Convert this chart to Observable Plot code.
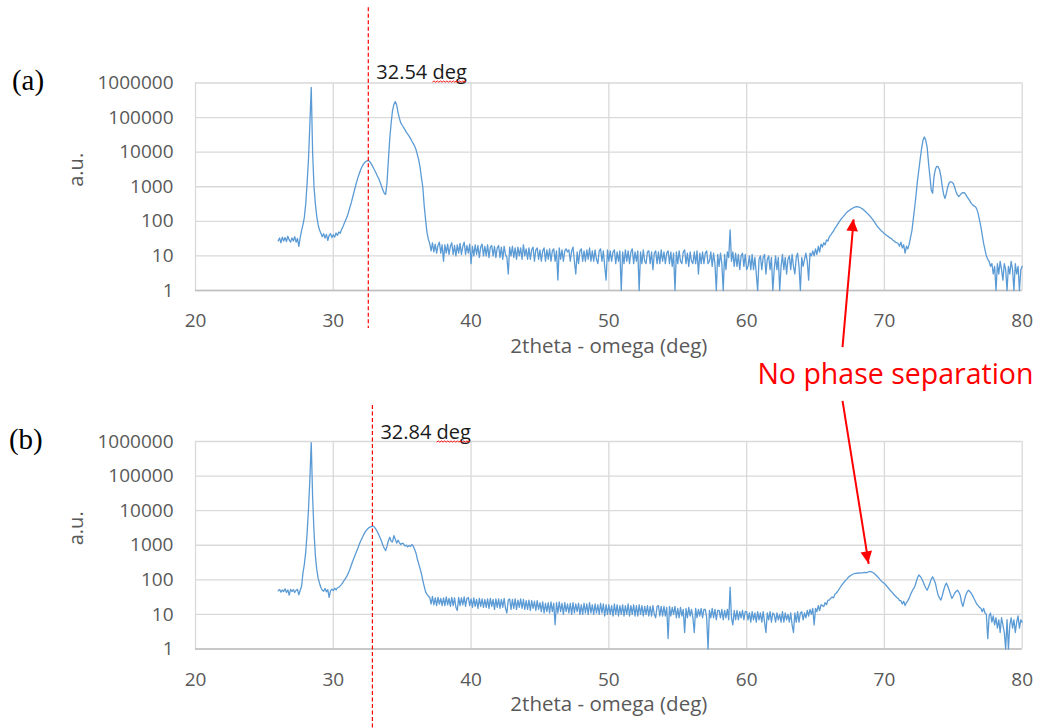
<!DOCTYPE html>
<html>
<head>
<meta charset="utf-8">
<script src="https://cdn.jsdelivr.net/npm/d3@7"></script>
<script src="https://cdn.jsdelivr.net/npm/@observablehq/plot@0.6"></script>
<style>
  html, body { margin: 0; padding: 0; background: #fff; }
  #wrap { position: relative; width: 1043px; height: 728px; overflow: hidden; background: #fff; }
  .panel { position: absolute; left: 0; }
</style>
</head>
<body>
<div id="wrap"></div>
<script>
// ---------- data ----------
const xStart = 26.0;   // first 2theta sample (deg)
const xStep = 0.1;     // sample spacing (deg)
const xTicks = [20, 30, 40, 50, 60, 70, 80];
const yTicks = [1, 10, 100, 1000, 10000, 100000, 1000000];
const yTickLabels = ["1", "10", "100", "1000", "10000", "100000", "1000000"];

// panel (a): intensity per 0.1 deg, rows = 26.x ... 79.x, then 80.0
const intensityA = [
  27,33,24,35,27,34,26,37,29,25,
  33,27,36,25,32,19,34,55,80,130,
  320,1260,6300,63000,750000,10000,1000,320,140,80,
  56,45,36,44,33,42,28,39,44,34,
  41,35,46,39,49,45,58,70,88,110,
  135,180,250,340,480,700,1000,1400,1900,2500,
  3200,3900,4600,5100,5500,5700,5600,5000,4300,3600,
  3000,2500,2050,1700,1350,1050,800,650,600,1300,
  6000,25000,70000,160000,240000,290000,230000,140000,95000,70000,
  60000,52000,45000,38000,33000,29000,25000,21000,18000,15000,
  12000,8500,6000,3600,1800,950,280,110,48,30,
  23,14,24,13,22,12,20,25,12,21,
  7,21,12,22,11,19,24,11,20,10,
  21,12,23,11,19,25,11,20,12,22,
  6,19,10,21,11,20,9,18,22,10,
  19,10,21,9,18,20,10,19,9,17,
  20,9,18,8,19,11,9,3,18,10,
  19,9,17,8,18,10,17,8,21,10,
  16,8,17,8,15,18,7,15,17,8,
  15,7,14,17,7,15,8,16,7,14,
  16,7,14,2,17,8,15,7,14,16,
  13,15,7,14,18,7,3,13,6,14,
  16,7,14,7,15,8,17,7,14,7,
  15,8,6,14,16,7,14,5,2,15,
  7,14,7,13,15,6,13,7,14,1,
  13,6,15,7,14,6,13,16,6,13,
  7,14,1,13,6,15,7,6,13,14,
  6,13,4,12,14,6,13,6,15,7,
  13,6,12,14,6,13,5,12,1,13,
  6,14,7,6,13,15,6,12,5,13,
  7,6,13,6,14,3,12,6,13,6,
  12,14,6,7,13,5,12,6,1,11,
  5,12,6,1,11,4,13,9,57,7,
  13,5,12,5,11,4,10,12,5,11,
  4,5,10,4,11,4,9,3,1,8,
  10,4,9,11,3,8,10,4,9,1,
  4,10,4,9,1,5,11,4,9,3,
  8,10,4,11,5,3,9,12,5,1,
  9,5,8,12,7,2,12,10,14,10,
  16,11,19,13,22,18,24,21,29,27,
  36,40,46,52,62,70,82,95,108,122,
  135,152,170,186,200,214,228,240,252,260,
  265,262,255,243,230,213,196,180,164,150,
  135,120,106,92,80,70,64,57,52,48,
  44,41,38,36,33,32,29,27,25,24,
  23,19,25,17,21,12,19,16,22,35,
  55,120,260,600,1500,3100,6500,13000,22000,27500,
  22000,14000,5000,2000,800,650,2000,3200,3900,3800,
  3100,2000,1000,600,460,650,1000,1300,1400,1350,
  1250,950,720,580,520,580,650,680,670,600,
  510,450,390,330,300,280,265,230,170,110,
  70,40,23,15,10,8,7,5,6,3,
  5,1,6,3,7,4,2,6,4,1,
  5,3,7,4,1,6,3,5,1,4,
  5
];

// panel (b): intensity per 0.1 deg, rows = 26.x ... 79.x, then 80.0
const intensityB = [
  48,53,44,51,46,55,43,51,36,53,
  46,52,43,50,53,37,50,65,160,280,
  630,2200,11000,80000,930000,25000,2500,500,200,112,
  80,60,50,47,56,45,52,31,48,54,
  49,57,51,59,61,67,74,85,98,112,
  130,160,200,260,340,430,540,680,850,1100,
  1350,1650,2000,2350,2700,3000,3250,3400,3520,3550,
  3300,2900,2450,2000,1650,1300,1000,820,700,950,
  1350,1700,1300,1250,1900,1500,1150,1400,1200,1050,
  1150,1100,950,1000,900,980,920,1050,950,760,
  600,400,290,210,150,95,65,45,38,34,
  31,20,33,19,30,18,31,20,29,18,
  30,18,32,19,29,17,31,18,30,16,
  13,31,18,30,19,32,17,29,31,18,
  28,16,30,17,27,15,29,17,28,16,
  27,16,28,15,29,17,27,14,28,16,
  28,15,27,16,29,15,11,26,28,14,
  27,15,28,14,26,16,28,15,27,14,
  25,14,26,13,25,15,24,13,25,14,
  22,12,23,11,21,12,22,11,23,12,
  21,5,22,11,23,12,21,10,22,12,
  20,11,21,10,22,11,20,12,21,10,
  19,10,21,11,20,10,22,11,19,10,
  20,11,19,10,21,11,20,9,19,10,
  19,10,18,9,20,10,19,9,18,10,
  19,9,18,10,20,9,18,10,19,9,
  18,9,19,10,18,9,17,10,18,9,
  17,9,18,10,8,17,18,9,17,9,
  17,9,16,2,17,9,16,10,17,8,
  15,8,16,9,14,3,15,8,16,9,
  14,8,3,15,8,14,9,15,8,14,
  14,8,1,13,8,15,8,14,7,13,
  13,8,14,7,13,8,14,7,61,8,
  5,13,7,13,7,12,8,13,7,12,
  12,7,11,6,12,7,11,6,12,7,
  11,6,12,6,3,11,7,12,6,11,
  10,6,11,7,10,6,12,6,11,7,
  10,6,11,5,3,11,6,12,6,11,
  12,7,11,8,13,9,14,10,15,5,
  15,12,18,13,19,18,17,22,19,26,
  26,29,32,30,38,41,46,53,61,70,
  79,88,98,108,120,129,138,145,150,154,
  155,158,156,160,158,162,165,160,168,172,
  174,168,160,148,135,123,112,100,90,84,
  79,71,64,57,51,46,42,37,34,31,
  29,25,25,20,24,18,22,25,30,38,
  46,55,63,85,115,138,125,110,90,71,
  58,50,62,80,105,123,100,80,52,36,
  30,26,35,50,68,80,65,50,38,29,
  34,41,46,50,44,36,22,17,25,36,
  44,50,46,41,35,29,24,20,18,16,
  15,12,15,11,10,2,9,11,6,9,
  5,8,4,7,3,8,5,3,1,7,
  1,5,8,4,7,3,6,9,4,7,
  6
];

const peakMarkers = [32.54, 32.84];
const peakMarkerLabels = ["32.54 deg", "32.84 deg"];
const panelLabels = ["(a)", "(b)"];
const xTitle = "2theta - omega (deg)";
const yTitle = "a.u.";
const noteText = "No phase separation";
const noteAt = [{x: 70.8, y: 8.7e7}];                       // panel (b) coords
const arrowA = [{x1: 66.96, y1: 0.023, x2: 67.77, y2: 113}]; // panel (a) coords
const arrowB = [{x1: 66.96, y1: 1.5e7, x2: 68.86, y2: 290}]; // panel (b) coords

// ---------- drawing ----------
const BLUE = "#5b9bd5", GRID = "#d9d9d9", TXT = "#595959", RED = "#ff0000";
const wrap = document.getElementById("wrap");

function makePanel(cfg) {
  const series = cfg.values.map((v, i) => ({x: +(xStart + i * xStep).toFixed(1), y: v}));
  const gridStyle = {stroke: GRID, strokeOpacity: 1, strokeWidth: 1.3};
  const marks = [
    Plot.gridX(xTicks, gridStyle),
    Plot.gridY(yTicks, gridStyle),
    Plot.ruleY([1], {stroke: "#bfbfbf", strokeWidth: 1.3}),
    Plot.axisX(xTicks, {tickSize: 0, tickPadding: 23, label: null, color: TXT, fontSize: 19, tickFormat: d => String(d)}),
    Plot.axisY(yTicks, {tickSize: 0, tickPadding: 22, label: null, color: TXT, fontSize: 19, tickFormat: d => yTickLabels[yTicks.indexOf(d)]}),
    Plot.text([xTitle], {frameAnchor: "bottom", dy: 62, fontSize: 20.5, fill: TXT, text: d => d}),
    Plot.text([yTitle], {frameAnchor: "left", dx: -119, rotate: -90, fontSize: 20, fill: TXT, text: d => d}),
    Plot.line(series, {x: "x", y: "y", stroke: BLUE, strokeWidth: 1.3}),
    Plot.ruleX([cfg.marker], {y1: cfg.ruleTop, y2: cfg.ruleBottom, stroke: RED, strokeWidth: 1.2, strokeDasharray: "4,2.5"}),
    Plot.text([cfg.markerLabel], {x: cfg.marker, frameAnchor: "top", dx: 8, dy: cfg.markerDy, textAnchor: "start", fontSize: 20, fill: "#1a1a1a", text: d => d}),
    Plot.text([cfg.panelLabel], {frameAnchor: "top-left", dx: cfg.labelDx, dy: cfg.labelDy, textAnchor: "middle", fontSize: 29, fontFamily: "'Liberation Serif', 'Times New Roman', serif", fill: "#000", text: d => d}),
    Plot.link(cfg.arrow, {x1: "x1", y1: "y1", x2: "x2", y2: "y2", stroke: RED, strokeWidth: 2})
  ];
  if (cfg.note) {
    marks.push(Plot.text(cfg.note, {x: "x", y: "y", text: () => noteText, fontSize: 28.5, fill: RED, textAnchor: "middle"}));
  }
  const svg = Plot.plot({
    width: 1043,
    height: cfg.height,
    marginTop: cfg.marginTop,
    marginBottom: cfg.marginBottom,
    marginLeft: 195,
    marginRight: 21.3,
    x: {domain: [20, 80]},
    y: {type: "log", domain: [1, 1e6]},
    style: {fontFamily: "'Open Sans', sans-serif", fontSize: "19px", background: "transparent", overflow: "visible"},
    marks
  });
  const holder = document.createElement("div");
  holder.className = "panel";
  holder.style.top = cfg.top + "px";
  holder.appendChild(svg);
  wrap.appendChild(holder);

  // filled arrowhead, positioned through the plot's own scales
  const sx = svg.scale("x"), sy = svg.scale("y");
  cfg.arrow.forEach(a => {
    const ax1 = sx.apply(a.x1), ay1 = sy.apply(a.y1), ax2 = sx.apply(a.x2), ay2 = sy.apply(a.y2);
    const len = Math.hypot(ax2 - ax1, ay2 - ay1);
    const ux = (ax2 - ax1) / len, uy = (ay2 - ay1) / len;
    const L = 12, H = 5.8;
    const bx = ax2 - ux * L, by = ay2 - uy * L;
    d3.select(svg).append("polygon")
      .attr("points", [[ax2, ay2], [bx - uy * H, by + ux * H], [bx + uy * H, by - ux * H]].map(p => p.join(",")).join(" "))
      .attr("fill", RED);
  });

  // spell-check style wavy underline under "deg"
  svg.querySelectorAll("text").forEach(t => {
    if (t.textContent !== cfg.markerLabel) return;
    const s = cfg.markerLabel.indexOf("deg");
    const p0 = t.getStartPositionOfChar(s);
    const p1 = t.getEndPositionOfChar(cfg.markerLabel.length - 1);
    const y0 = p0.y + 3;
    let d = `M${p0.x},${y0}`;
    let k = 0;
    for (let x = p0.x + 1.6; x <= p1.x + 0.5; x += 1.6) { k++; d += `L${x},${y0 + (k % 2 ? -1.3 : 0)}`; }
    const path = document.createElementNS("http://www.w3.org/2000/svg", "path");
    path.setAttribute("d", d);
    path.setAttribute("fill", "none");
    path.setAttribute("stroke", RED);
    path.setAttribute("stroke-width", "0.9");
    if (t.getAttribute("transform")) path.setAttribute("transform", t.getAttribute("transform"));
    t.parentNode.appendChild(path);
  });
}

makePanel({
  values: intensityA, marker: peakMarkers[0], markerLabel: peakMarkerLabels[0], panelLabel: panelLabels[0],
  top: 0, height: 370, marginTop: 82.5, marginBottom: 80,
  ruleTop: 1.5e8, ruleBottom: 0.08, markerDy: -18, labelDx: -167.5, labelDy: -14,
  arrow: arrowA
});
makePanel({
  values: intensityB, marker: peakMarkers[1], markerLabel: peakMarkerLabels[1], panelLabel: panelLabels[1],
  top: 358, height: 370, marginTop: 83, marginBottom: 79.5,
  ruleTop: 1.1e7, ruleBottom: 0.005, markerDy: -16.5, labelDx: -169.7, labelDy: -12.7,
  arrow: arrowB, note: noteAt
});
</script>
</body>
</html>
